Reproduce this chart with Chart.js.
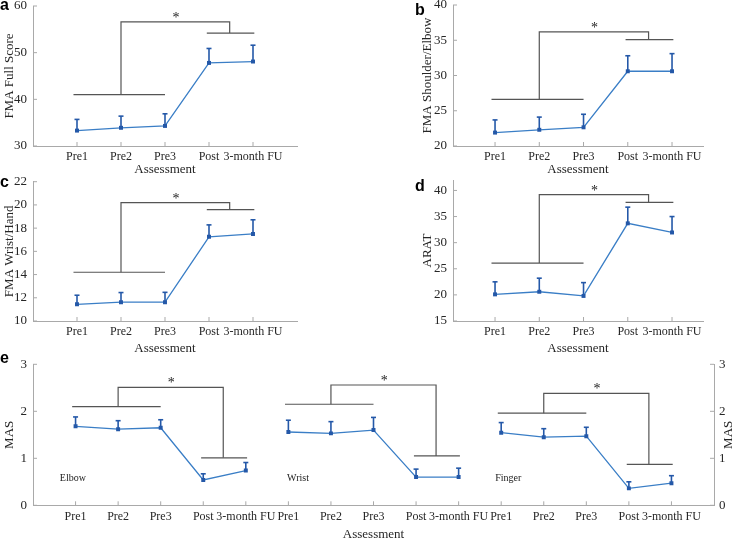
<!DOCTYPE html>
<html lang="en">
<head>
<meta charset="UTF-8">
<title>FMA, ARAT and MAS by assessment</title>
<script src="https://cdn.jsdelivr.net/npm/chart.js@4"></script>
<style>
    body { margin: 0; background: #fff; }
    #wrap { position: relative; width: 740px; height: 539px; overflow: hidden; }
    canvas { position: absolute; }
    .tag { position: absolute; font: bold 16px "Liberation Sans", Arial, sans-serif; line-height: 16px; color: #000; }
</style>
</head>
<body>
<div id="wrap">
    <canvas id="chart-e" width="740" height="189" style="left:0;top:350px"></canvas>
    <canvas id="chart-c" width="370" height="185" style="left:0;top:172px"></canvas>
    <canvas id="chart-d" width="370" height="185" style="left:370px;top:172px"></canvas>
    <canvas id="chart-a" width="370" height="178" style="left:0;top:0"></canvas>
    <canvas id="chart-b" width="370" height="178" style="left:370px;top:0"></canvas>
    <div class="tag" style="left:0;top:-3px">a</div>
    <div class="tag" style="left:415px;top:2px">b</div>
    <div class="tag" style="left:0;top:174px">c</div>
    <div class="tag" style="left:415px;top:178px">d</div>
    <div class="tag" style="left:0;top:350px">e</div>
</div>

<script>
    // assessment points
    const assessLabels = ['Pre1', 'Pre2', 'Pre3', 'Post', '3-month FU'];

    // a - FMA full score (mean, top of error bar)
    const fmaFull = [33.3, 33.9, 34.3, 47.8, 48.1];
    const fmaFullUpper = [35.7, 36.4, 36.9, 50.9, 51.6];
    const fmaFullTicks = [30, 40, 50, 60];
    const fmaFullBracket = [41.0, 54.2, 56.6]; // pre level, post level, top

    // b - FMA shoulder/elbow
    const fmaShoulder = [21.9, 22.3, 22.65, 30.6, 30.6];
    const fmaShoulderUpper = [23.7, 24.1, 24.5, 32.8, 33.1];
    const fmaShoulderTicks = [20, 25, 30, 35, 40];
    const fmaShoulderBracket = [26.6, 35.1, 36.2];

    // c - FMA wrist/hand
    const fmaWrist = [11.44, 11.62, 11.62, 17.25, 17.5];
    const fmaWristUpper = [12.22, 12.45, 12.47, 18.28, 18.72];
    const fmaWristTicks = [10, 12, 14, 16, 18, 20, 22];
    const fmaWristBracket = [14.2, 19.6, 20.2];

    // d - ARAT
    const arat = [20.1, 20.6, 19.8, 33.7, 31.95];
    const aratUpper = [22.5, 23.2, 22.35, 36.8, 35.0];
    const aratTicks = [15, 20, 25, 30, 35, 40];
    const aratBracket = [26.1, 37.7, 39.2];

    // e - MAS per joint
    const masGroups = ['Elbow', 'Wrist', 'Finger'];
    const masElbow = [1.68, 1.62, 1.65, 0.54, 0.74];
    const masElbowUpper = [1.88, 1.80, 1.82, 0.67, 0.91];
    const masWrist = [1.56, 1.53, 1.60, 0.60, 0.60];
    const masWristUpper = [1.81, 1.78, 1.87, 0.77, 0.79];
    const masFinger = [1.545, 1.45, 1.47, 0.36, 0.47];
    const masFingerUpper = [1.76, 1.63, 1.66, 0.50, 0.63];
    const masTicks = [0, 1, 2, 3];
    const masElbowBracket = [2.1, 1.01, 2.51];
    const masWristBracket = [2.15, 1.05, 2.56];
    const masFingerBracket = [1.96, 0.87, 2.38];

    const axisGray = '#a9a9a9';
    const textGray = '#262626';
    const lineBlue = '#3a7ec6';
    const barBlue = '#2458a8';
    const bracketGray = '#555555';
    const serif = '"Liberation Serif", "Times New Roman", serif';

    function line(ctx, x1, y1, x2, y2) {
        ctx.beginPath();
        ctx.moveTo(x1, y1);
        ctx.lineTo(x2, y2);
        ctx.stroke();
    }

    const marksPlugin = {
        id: 'marks',
        beforeDatasetsDraw(chart, args, opts) {
            const ctx = chart.ctx;
            const xs = chart.scales.x, ys = chart.scales.y;
            ctx.save();
            opts.groups.forEach(g => {
                const X = v => xs.getPixelForValue(g.offset + v);
                const Y = v => ys.getPixelForValue(v);
                const [preY, postY, topY] = g.bracket;

                // significance bracket
                ctx.strokeStyle = bracketGray;
                ctx.lineWidth = 1.2;
                line(ctx, X(0.92), Y(preY), X(3.0), Y(preY));
                line(ctx, X(3.95), Y(postY), X(5.03), Y(postY));
                ctx.beginPath();
                ctx.moveTo(X(2), Y(preY));
                ctx.lineTo(X(2), Y(topY));
                ctx.lineTo(X(4.47), Y(topY));
                ctx.lineTo(X(4.47), Y(postY));
                ctx.stroke();
                ctx.fillStyle = '#222';
                ctx.font = '14px ' + serif;
                ctx.textAlign = 'center';
                ctx.textBaseline = 'alphabetic';
                ctx.fillText('*', X(3.25), Y(topY));

                // upper error bars
                ctx.strokeStyle = barBlue;
                ctx.lineWidth = 1.6;
                g.upper.forEach((u, i) => {
                    const px = X(i + 1);
                    line(ctx, px, Y(g.values[i]), px, Y(u));
                    line(ctx, px - 2.5, Y(u), px + 2.5, Y(u));
                });
            });
            ctx.restore();
        },
        afterDraw(chart, args, opts) {
            const ctx = chart.ctx;
            const area = chart.chartArea;
            const xs = chart.scales.x, ys = chart.scales.y, ys2 = chart.scales.y2;
            ctx.save();
            // inward tick marks
            ctx.strokeStyle = axisGray;
            ctx.lineWidth = 1;
            ys.ticks.forEach(t => {
                const py = ys.getPixelForValue(t.value);
                line(ctx, area.left, py, area.left + 4, py);
                if (ys2) line(ctx, area.right, py, area.right - 4, py);
            });
            xs.ticks.forEach(t => {
                const px = xs.getPixelForValue(t.value);
                line(ctx, px, area.bottom, px, area.bottom - 4);
            });
            // group names
            ctx.fillStyle = '#222';
            ctx.font = '10px ' + serif;
            ctx.textAlign = 'left';
            ctx.textBaseline = 'middle';
            (opts.notes || []).forEach(n => {
                ctx.fillText(n.text, xs.getPixelForValue(n.x), ys.getPixelForValue(n.y));
            });
            // right axis title reads bottom-to-top like the left one
            if (opts.rightTitle) {
                ctx.translate(opts.rightTitleX, (area.top + area.bottom) / 2);
                ctx.rotate(-Math.PI / 2);
                ctx.font = '13px ' + serif;
                ctx.fillStyle = textGray;
                ctx.textAlign = 'center';
                ctx.fillText(opts.rightTitle, 0, 0);
            }
            ctx.restore();
        }
    };

    function yScale(spec, position, width, showTitle) {
        return {
            type: 'linear',
            position: position,
            min: spec.yMin,
            max: spec.yMax,
            grid: { display: false, drawTicks: false },
            border: { display: true, color: axisGray, width: 1 },
            afterBuildTicks: s => { s.ticks = spec.yTicks.map(v => ({ value: v })); },
            ticks: { padding: position === 'left' ? 6 : 5, color: textGray, font: { family: serif, size: 13 } },
            title: {
                display: showTitle,
                text: spec.yTitle,
                color: textGray,
                font: { family: serif, size: 13, lineHeight: 1.2 },
                padding: { top: 2, bottom: 0 }
            },
            afterFit: s => {
                s.width = width;
                s.paddingTop = 0; s.paddingBottom = 0; s.paddingLeft = 0; s.paddingRight = 0;
            }
        };
    }

    function buildChart(id, spec) {
        const datasets = spec.groups.map(g => ({
            data: g.values.map((v, i) => ({ x: g.offset + i + 1, y: v })),
            borderColor: lineBlue,
            borderWidth: 1.3,
            pointStyle: 'rect',
            pointRadius: 2.8,
            pointBackgroundColor: barBlue,
            pointBorderColor: barBlue,
            pointBorderWidth: 0,
            tension: 0
        }));

        const scales = {
            x: {
                type: 'linear',
                min: spec.xMin,
                max: spec.xMax,
                grid: { display: false, drawTicks: false },
                border: { display: true, color: axisGray, width: 1 },
                afterBuildTicks: s => { s.ticks = spec.xTicks.map(v => ({ value: v })); },
                ticks: {
                    autoSkip: false,
                    maxRotation: 0,
                    padding: 4,
                    color: textGray,
                    font: { family: serif, size: 12 },
                    callback: v => assessLabels[(v - 1) % assessLabels.length]
                },
                title: {
                    display: true,
                    text: 'Assessment',
                    color: textGray,
                    font: { family: serif, size: 13, lineHeight: 1.2 },
                    padding: { top: 0, bottom: spec.titlePad }
                },
                afterFit: s => {
                    s.height = spec.xHeight;
                    s.paddingTop = 0; s.paddingBottom = 0; s.paddingLeft = 0; s.paddingRight = 0;
                }
            },
            y: yScale(spec, 'left', spec.yWidth, true)
        };
        if (spec.y2Width) scales.y2 = yScale(spec, 'right', spec.y2Width, false);

        new Chart(document.getElementById(id), {
            type: 'line',
            data: { datasets: datasets },
            options: {
                responsive: false,
                animation: false,
                devicePixelRatio: 1,
                layout: { padding: spec.pad },
                scales: scales,
                plugins: {
                    legend: { display: false },
                    tooltip: { enabled: false },
                    marks: { groups: spec.groups, notes: spec.notes, rightTitle: spec.rightTitle, rightTitleX: spec.rightTitleX }
                }
            },
            plugins: [marksPlugin]
        });
    }

    const fiveTicks = [1, 2, 3, 4, 5];

    buildChart('chart-a', {
        groups: [{ offset: 0, values: fmaFull, upper: fmaFullUpper, bracket: fmaFullBracket }],
        xMin: 0, xMax: 6, xTicks: fiveTicks,
        yMin: 30, yMax: 60, yTicks: fmaFullTicks, yTitle: 'FMA Full Score',
        pad: { left: 0, top: 6, right: 73, bottom: 0 }, yWidth: 33, xHeight: 32, titlePad: 1
    });

    buildChart('chart-b', {
        groups: [{ offset: 0, values: fmaShoulder, upper: fmaShoulderUpper, bracket: fmaShoulderBracket }],
        xMin: 0.05, xMax: 5.7, xTicks: fiveTicks,
        yMin: 20, yMax: 40, yTicks: fmaShoulderTicks, yTitle: 'FMA Shoulder/Elbow',
        pad: { left: 48, top: 5, right: 37, bottom: 0 }, yWidth: 35, xHeight: 32, titlePad: 1
    });

    buildChart('chart-c', {
        groups: [{ offset: 0, values: fmaWrist, upper: fmaWristUpper, bracket: fmaWristBracket }],
        xMin: 0, xMax: 6, xTicks: fiveTicks,
        yMin: 10, yMax: 22, yTicks: fmaWristTicks, yTitle: 'FMA Wrist/Hand',
        pad: { left: 0, top: 9.7, right: 73, bottom: 0 }, yWidth: 33, xHeight: 36, titlePad: 1
    });

    buildChart('chart-d', {
        groups: [{ offset: 0, values: arat, upper: aratUpper, bracket: aratBracket }],
        xMin: 0.05, xMax: 5.7, xTicks: fiveTicks,
        yMin: 15, yMax: 42, yTicks: aratTicks, yTitle: 'ARAT',
        pad: { left: 48, top: 8, right: 37, bottom: 0 }, yWidth: 35, xHeight: 36, titlePad: 1
    });

    buildChart('chart-e', {
        groups: [
            { offset: 0, values: masElbow, upper: masElbowUpper, bracket: masElbowBracket },
            { offset: 5, values: masWrist, upper: masWristUpper, bracket: masWristBracket },
            { offset: 10, values: masFinger, upper: masFingerUpper, bracket: masFingerBracket }
        ],
        notes: [
            { text: masGroups[0], x: 0.63, y: 0.58 },
            { text: masGroups[1], x: 5.97, y: 0.58 },
            { text: masGroups[2], x: 10.86, y: 0.58 }
        ],
        rightTitle: 'MAS', rightTitleX: 729,
        xMin: 0, xMax: 16, xTicks: [1, 2, 3, 4, 5, 6, 7, 8, 9, 10, 11, 12, 13, 14, 15],
        yMin: 0, yMax: 3, yTicks: masTicks, yTitle: 'MAS',
        pad: { left: 0, top: 14.3, right: 0, bottom: 0 }, yWidth: 33, y2Width: 26, xHeight: 33.7, titlePad: -3
    });
</script>
</body>
</html>
